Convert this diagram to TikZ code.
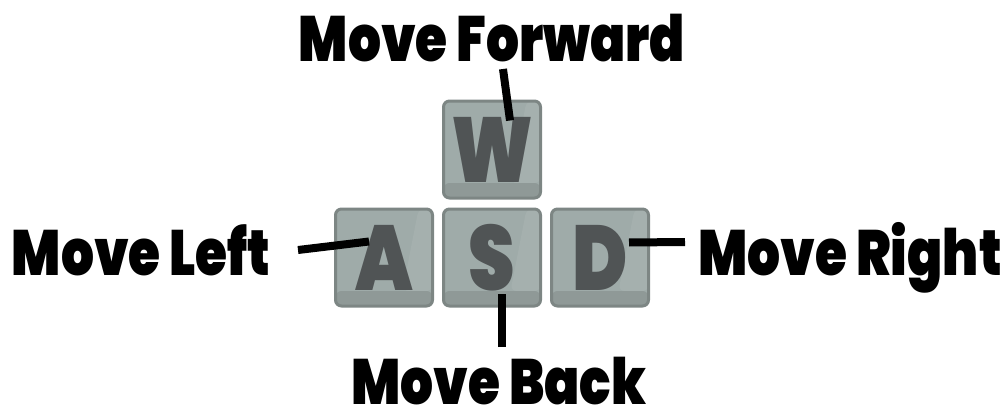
\documentclass[tikz,border=0pt]{standalone}
\usepackage{fontspec}
\newfontfamily\capfont{Poppins Black}
\usetikzlibrary{positioning}

\definecolor{keyedge}{HTML}{7D8684}
\definecolor{keyface}{HTML}{9FABA9}
\definecolor{keyshine}{HTML}{A5B0AE}
\definecolor{keyband}{HTML}{8F9997}
\definecolor{keyink}{HTML}{505455}
\newcommand{\squeeze}[1]{\scalebox{0.81}[1]{#1}}

\begin{document}
\begin{tikzpicture}[x=1pt,y=-1pt,node distance=8pt,
    every node/.style={inner sep=0pt}]
  \tikzstyle{keycap}=[rounded corners=6pt,draw=keyedge,line width=3pt,fill=keyface,
    minimum width=97pt,minimum height=97pt,text=keyink,font=\capfont\fontsize{92}{92}\selectfont,
    path picture={
      \fill[keyshine] ([xshift=-14pt]path picture bounding box.north east) --
        (path picture bounding box.north east) --
        ([yshift=15pt]path picture bounding box.south east) --
        ([xshift=-30pt,yshift=15pt]path picture bounding box.south east) -- cycle;
      \fill[keyband] (path picture bounding box.south west) rectangle
        ([yshift=15pt]path picture bounding box.south east);}]
  \tikzstyle{caption}=[anchor=base,font=\capfont\fontsize{64}{64}\selectfont]
  \tikzstyle{lead}=[line width=8pt]
  \useasboundingbox (0,0) rectangle (1007,412);
  % Keys
  \node[keycap] (keyS) at (492,257.5) {\squeeze{S}};
  \node[keycap] (keyA) [left=of keyS] {\squeeze{A}};
  \node[keycap] (keyD) [right=of keyS] {\squeeze{D}};
  \node[keycap] (keyW) [above=of keyS] {\squeeze{W}};
  % Labels
  \node[caption] (capFwd) at (492,62) {\squeeze{Move Forward}};
  \node[caption] (capLeft) at (141,275) {\squeeze{Move Left}};
  \node[caption] (capRight) at (850,275) {\squeeze{Move Right}};
  \node[caption] (capBack) at (499,404) {\squeeze{Move Back}};

  \draw[lead] ([shift={(11,7)}]capFwd.base) -- ([shift={(18,-29)}]keyW.center);
  \draw[lead] ([shift={(157,-25)}]capLeft.base) -- ([shift={(-15,-16)}]keyA.center);
  \draw[lead] ([shift={(-165,-33)}]capRight.base) -- ([shift={(29,-15)}]keyD.center);
  \draw[lead] ([shift={(3,-57)}]capBack.base) -- ([shift={(10,36)}]keyS.center);

\end{tikzpicture}
\end{document}
